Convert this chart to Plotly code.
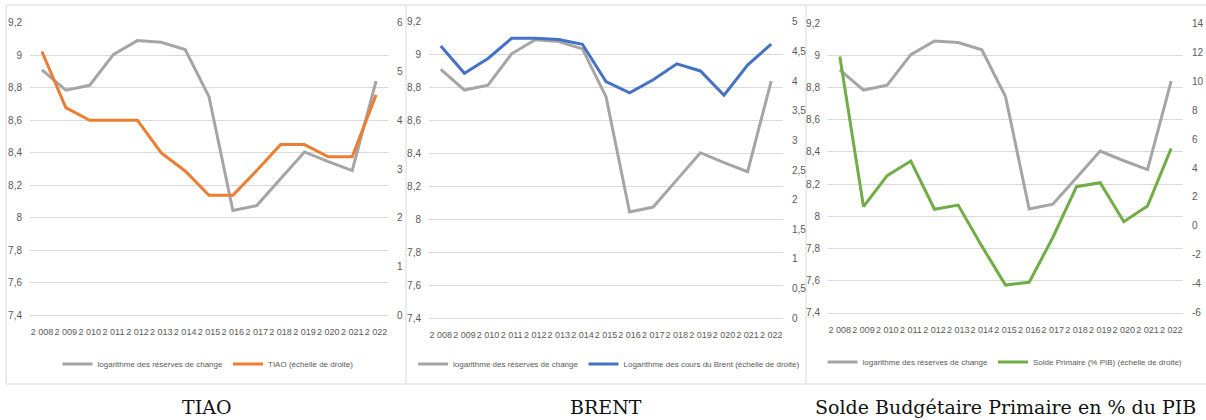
import plotly.graph_objects as go

years = ["2 008", "2 009", "2 010", "2 011", "2 012", "2 013", "2 014", "2 015",
         "2 016", "2 017", "2 018", "2 019", "2 020", "2 021", "2 022"]

log_reserves = [8.91, 8.785, 8.815, 9.005, 9.09, 9.08, 9.035, 8.745,
                8.045, 8.075, 8.24, 8.405, 8.345, 8.29, 8.84]
tiao = [5.41, 4.26, 4.0, 4.0, 4.0, 3.33, 2.96, 2.46,
        2.46, 2.97, 3.5, 3.5, 3.25, 3.25, 4.52]
log_brent = [4.59, 4.13, 4.38, 4.72, 4.72, 4.70, 4.62, 3.99,
             3.80, 4.02, 4.29, 4.17, 3.76, 4.27, 4.62]
solde_primaire = [11.7, 1.33, 3.47, 4.48, 1.15, 1.44, -1.4, -4.09,
                  -3.9, -0.8, 2.71, 2.98, 0.29, 1.37, 5.36]

solde_tickvals = [-6, -4, -2, 0, 2, 4, 6, 8, 10, 12, 14]
solde_ticktext = ["-6", "-4", "-2", "0", "2", "4", "6", "8", "10", "12", "14"]

captions = ["TIAO", "BRENT", "Solde Budgétaire Primaire en % du PIB"]
legend_gray = "logarithme des réserves de change"
legend_right = ["TIAO (échelle de droite)",
                "Logarithme des cours du Brent (échelle de droite)",
                "Solde Primaire (% PIB) (échelle de droite)"]

W, H = 1206, 420
GRAY = "#A5A5A5"
COLORS = ["#ED7D31", "#4472C4", "#70AD47"]
GRID = "#D9D9D9"
TXT = "#595959"
SANS = "Liberation Sans, Arial, sans-serif"

# pixel geometry of each panel: (x0, x1, ytop, ybottom)
panels = [(30, 388, 22.7, 315.3), (429, 783, 21.7, 318.3), (828, 1183, 23.3, 312.7)]
right_ranges = [(0, 6, 1), (0, 5, 0.5), (-6, 14, 2)]
right_data = [tiao, log_brent, solde_primaire]
legend_pos = [(208, 364), (609, 364), (1005, 362)]
caption_x = [206, 606, 1005]

fig = go.Figure()
layout = dict(
    width=W, height=H, margin=dict(l=0, r=0, t=0, b=0, autoexpand=False),
    paper_bgcolor="white", plot_bgcolor="white",
    separators=", ", shapes=[], annotations=[],
)

for i in range(3):
    x0, x1, yt, yb = panels[i]
    xa = "x" if i == 0 else f"x{i+1}"
    yl = 2 * i + 1
    yr = 2 * i + 2
    yla = "y" if yl == 1 else f"y{yl}"
    yra = f"y{yr}"
    leg = "legend" if i == 0 else f"legend{i+1}"

    fig.add_trace(go.Scatter(x=years, y=log_reserves, mode="lines", name=legend_gray,
                             line=dict(color=GRAY, width=3), xaxis=xa, yaxis=yla,
                             legend=leg))
    fig.add_trace(go.Scatter(x=years, y=right_data[i], mode="lines", name=legend_right[i],
                             line=dict(color=COLORS[i], width=3), xaxis=xa, yaxis=yra,
                             legend=leg))

    xkey = "xaxis" if i == 0 else f"xaxis{i+1}"
    layout[xkey] = dict(
        domain=[x0 / W, x1 / W], anchor=yla, type="category", range=[-0.5, 14.5],
        showgrid=False, zeroline=False, showline=True, linecolor=GRID, linewidth=1,
        ticks="", tickangle=0, tickfont=dict(family=SANS, size=9, color=TXT),
        ticklabelstandoff=8, fixedrange=True, automargin=False,
    )
    ydom = [1 - yb / H, 1 - yt / H]
    lkey = "yaxis" if yl == 1 else f"yaxis{yl}"
    layout[lkey] = dict(
        domain=ydom, anchor=xa, range=[7.4, 9.2], dtick=0.2, tick0=7.4,
        showgrid=True, gridcolor=GRID, gridwidth=1, zeroline=False, showline=False,
        ticks="", tickfont=dict(family=SANS, size=10, color=TXT),
        ticklabelstandoff=7, automargin=False,
    )
    r0, r1, dt = right_ranges[i]
    rax = dict(
        domain=ydom, anchor=xa, overlaying=yla, side="right", range=[r0, r1],
        dtick=dt, tick0=r0, showgrid=False, zeroline=False, showline=False,
        ticks="", tickfont=dict(family=SANS, size=10, color=TXT),
        ticklabelstandoff=8, automargin=False,
    )
    if i == 2:
        rax.update(tickmode="array", tickvals=solde_tickvals, ticktext=solde_ticktext)
    layout[f"yaxis{yr}"] = rax
    lx, ly = legend_pos[i]
    layout[leg] = dict(
        orientation="h", x=lx / W, y=1 - ly / H, xanchor="center", yanchor="middle",
        font=dict(family=SANS, size=8, color=TXT), bgcolor="rgba(0,0,0,0)",
        itemwidth=30, tracegroupgap=0,
    )
    layout["annotations"].append(dict(
        text=captions[i], x=caption_x[i] / W, y=1 - 407 / H, xref="paper", yref="paper",
        xanchor="center", yanchor="middle", showarrow=False,
        font=dict(family="DejaVu Serif, Liberation Serif, serif", size=19, color="#111111"),
    ))

# chart-area borders
layout["shapes"].append(dict(type="rect", xref="paper", yref="paper",
                             x0=6 / W, x1=1212 / W, y0=1 - 384 / H, y1=1 - 5 / H,
                             line=dict(color=GRID, width=1), layer="below"))
for xv in (406, 806):
    layout["shapes"].append(dict(type="line", xref="paper", yref="paper",
                                 x0=xv / W, x1=xv / W, y0=1 - 384 / H, y1=1 - 5 / H,
                                 line=dict(color=GRID, width=1), layer="below"))

fig.update_layout(**layout)
fig.write_html(
    "out.html",
    config={"displayModeBar": False},
    post_script="document.body.style.margin='0';document.body.style.overflow='hidden';",
)
